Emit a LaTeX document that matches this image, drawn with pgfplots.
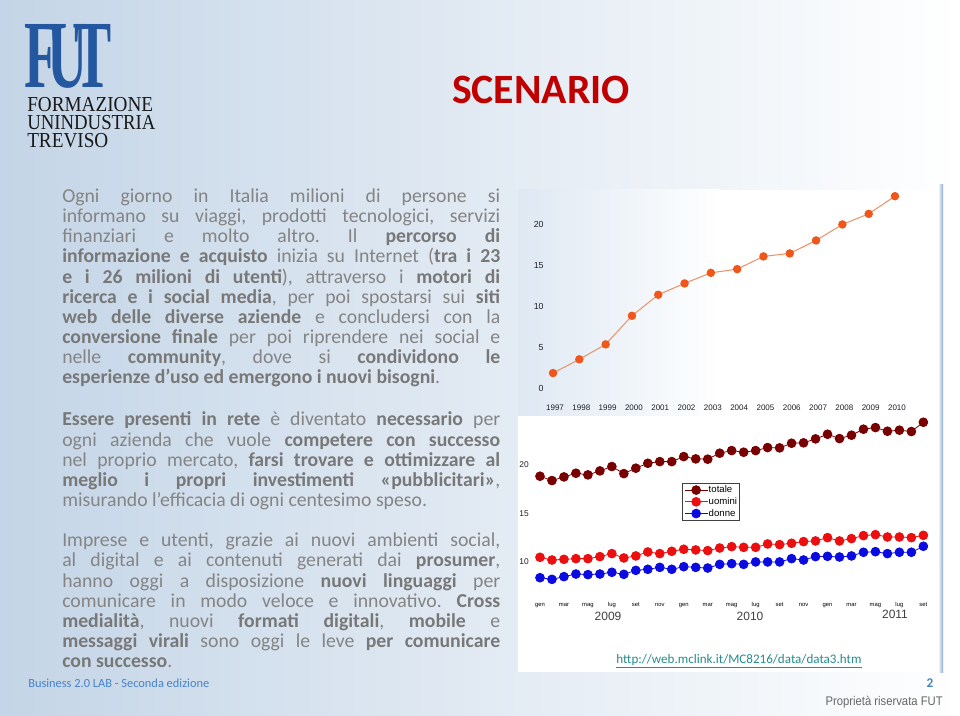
\documentclass[border=0pt]{standalone}
\usepackage{pgfplots}
\pgfplotsset{compat=1.18}
\usepackage{pgfplotstable}
\usepackage{fontspec}
\usepackage{graphicx}
\setmainfont{Carlito}
\newfontfamily\arialf{Liberation Sans}
\newfontfamily\timesf{Liberation Serif}
\frenchspacing
\definecolor{bgL}{RGB}{196,213,231}
\definecolor{bgM}{RGB}{222,232,243}
\definecolor{txt}{RGB}{132,132,132}
\definecolor{txtb}{RGB}{120,120,120}
\definecolor{titred}{RGB}{192,0,0}
\definecolor{futblue}{RGB}{35,88,160}
\definecolor{footblue}{RGB}{70,130,200}
\definecolor{linkc}{RGB}{40,140,140}
\definecolor{orgm}{RGB}{240,85,25}
\definecolor{orgl}{RGB}{232,150,110}
\definecolor{maroonc}{RGB}{120,0,0}
\definecolor{rosso}{RGB}{235,15,15}
\definecolor{blu}{RGB}{10,10,225}
\definecolor{tickc}{RGB}{30,30,40}
\definecolor{borderc}{RGB}{140,172,208}

\pgfplotstableread{
m tot uom don
0 18.83 10.45 8.34
1 18.38 10.17 8.17
2 18.76 10.24 8.45
3 19.14 10.31 8.72
4 18.97 10.31 8.66
5 19.38 10.52 8.72
6 19.83 10.83 8.90
7 19.10 10.38 8.69
8 19.66 10.59 9.10
9 20.17 11.00 9.21
10 20.34 10.83 9.41
11 20.34 11.07 9.21
12 20.86 11.28 9.48
13 20.62 11.21 9.41
14 20.59 11.14 9.34
15 21.21 11.41 9.72
16 21.48 11.55 9.79
17 21.31 11.48 9.72
18 21.48 11.48 9.97
19 21.79 11.83 9.97
20 21.76 11.76 9.97
21 22.24 11.90 10.31
22 22.28 12.07 10.17
23 22.69 12.14 10.52
24 23.17 12.48 10.55
25 22.72 12.14 10.48
26 23.07 12.38 10.59
27 23.69 12.69 10.97
28 23.86 12.79 11.03
29 23.48 12.55 10.83
30 23.59 12.55 10.97
31 23.45 12.48 10.97
32 24.41 12.72 11.59
}\mesi

\pgfplotstableread{
anno val
1997 1.86
1998 3.53
1999 5.35
2000 8.83
2001 11.39
2002 12.77
2003 14.06
2004 14.51
2005 16.06
2006 16.42
2007 18.00
2008 19.95
2009 21.24
2010 23.39
}\anni

\newcommand{\bt}[1]{\textbf{\color{txtb}#1}}
\newcommand{\jl}[2]{\node[anchor=base west,inner sep=0pt,text=txt,font=\fontsize{14.8}{15}\selectfont] at (62,#1) {\makebox[328.5pt][s]{#2}};}
\newcommand{\el}[2]{\node[anchor=base west,inner sep=0pt,text=txt,font=\fontsize{14.8}{15}\selectfont] at (62,#1) {#2};}

\begin{document}
\begin{tikzpicture}
\begin{scope}[x=0.75pt,y=-0.75pt]
\path[use as bounding box] (0,0) rectangle (960,716);
\shade[left color=bgL, middle color=bgM, right color=white] (0,0) rectangle (960,716);
% chart panels
\shade[left color=bgM, right color=white] (518,190) rectangle (720,416);
\fill[white] (720,190) rectangle (940,416);
\fill[white] (518,416) rectangle (940,672);
\shade[left color=white, right color=borderc] (938,185) rectangle (943,672);
% logo
\node[anchor=base west,inner sep=0pt,text=futblue] at (24,88) {\scalebox{0.55}[0.95]{\timesf\bfseries\fontsize{76}{76}\selectfont F\kern-0.2em U\kern-0.24em T}};
\node[anchor=base west,inner sep=0pt,text=black!90] at (27,112) {\scalebox{0.9}[1]{\timesf\fontsize{16}{16}\selectfont FORMAZIONE}};
\node[anchor=base west,inner sep=0pt,text=black!90] at (27,130) {\scalebox{0.88}[1]{\timesf\fontsize{16}{16}\selectfont UNINDUSTRIA}};
\node[anchor=base west,inner sep=0pt,text=black!90] at (27,148) {\scalebox{0.9}[1]{\timesf\fontsize{16}{16}\selectfont TREVISO}};
% title
\node[anchor=base,inner sep=0pt,text=titred,font=\bfseries\fontsize{31.3}{32}\selectfont] at (541,104) {SCENARIO};
% paragraph 1
\jl{202.7}{Ogni giorno in Italia milioni di persone si}
\jl{222.8}{informano su viaggi, prodotti tecnologici, servizi}
\jl{242.9}{finanziari e molto altro. Il \bt{percorso di}}
\jl{263.0}{\bt{informazione e acquisto} inizia su Internet (\bt{tra i 23}}
\jl{283.1}{\bt{e i 26 milioni di utenti}), attraverso i \bt{motori di}}
\jl{303.2}{\bt{ricerca e i social media}, per poi spostarsi sui \bt{siti}}
\jl{323.3}{\bt{web delle diverse aziende} e concludersi con la}
\jl{343.4}{\bt{conversione finale} per poi riprendere nei social e}
\jl{363.5}{nelle \bt{community}, dove si \bt{condividono le}}
\el{383.6}{\bt{esperienze d’uso ed emergono i nuovi bisogni}.}
% paragraph 2
\jl{426.0}{\bt{Essere presenti in rete} è diventato \bt{necessario} per}
\jl{446.1}{ogni azienda che vuole \bt{competere con successo}}
\jl{466.2}{nel proprio mercato, \bt{farsi trovare e ottimizzare al}}
\jl{486.3}{\bt{meglio i propri investimenti «pubblicitari»},}
\el{506.4}{misurando l’efficacia di ogni centesimo speso.}
% paragraph 3
\jl{546.8}{Imprese e utenti, grazie ai nuovi ambienti social,}
\jl{566.9}{al digital e ai contenuti generati dai \bt{prosumer},}
\jl{587.0}{hanno oggi a disposizione \bt{nuovi linguaggi} per}
\jl{607.1}{comunicare in modo veloce e innovativo. \bt{Cross}}
\jl{627.2}{\bt{medialità}, nuovi \bt{formati digitali}, \bt{mobile} e}
\jl{647.3}{\bt{messaggi virali} sono oggi le leve \bt{per comunicare}}
\el{667.4}{\bt{con successo}.}
% footer
\node[anchor=base west,inner sep=0pt,text=footblue,font=\fontsize{9.3}{10}\selectfont] at (28,687) {Business 2.0 LAB - Seconda edizione};
\node[anchor=base,inner sep=0pt,text=footblue,font=\bfseries\fontsize{10}{10}\selectfont] at (930,687) {2};
\node[anchor=base east,inner sep=0pt,text=black!60] at (943,705) {\scalebox{0.9}[1]{\arialf\fontsize{9.4}{10}\selectfont Proprietà riservata FUT}};
\node[anchor=base,inner sep=0pt,text=linkc,font=\fontsize{9.8}{10}\selectfont] at (739,663) {\underline{http://web.mclink.it/MC8216/data/data3.htm}};
% year labels of chart 2
\node[anchor=base,inner sep=0pt,text=black!75,font=\arialf\fontsize{9}{9}\selectfont] at (608,620) {2009};
\node[anchor=base,inner sep=0pt,text=black!75,font=\arialf\fontsize{9}{9}\selectfont] at (750,620) {2010};
\node[anchor=base,inner sep=0pt,text=black!75,font=\arialf\fontsize{9}{9}\selectfont] at (895,618) {2011};
\end{scope}

% chart 1
\begin{axis}[at={(404.9pt,-297.4pt)}, anchor=south west, scale only axis,
  width=276.2pt, height=157.1pt,
  xmin=1996.5, xmax=2010.5, ymin=-1, ymax=24.5,
  clip=false, axis line style={draw=none}, major tick length=0pt,
  xtick={1997,1998,1999,2000,2001,2002,2003,2004,2005,2006,2007,2008,2009,2010},
  xticklabels={1997,1998,1999,2000,2001,2002,2003,2004,2005,2006,2007,2008,2009,2010},
  ytick={0,5,10,15,20},
  /pgf/number format/assume math mode=true,
  xticklabel style={font=\arialf\fontsize{6}{6}\selectfont, text=tickc, anchor=base, inner sep=0pt, yshift=-10.6pt, xshift=1.5pt},
  yticklabel style={font=\arialf\fontsize{6.6}{7}\selectfont, text=tickc, anchor=east, inner sep=0pt, xshift=3pt},
]
\addplot[orgl, line width=0.8pt, mark=*, mark size=2.75pt, mark options={draw=orgm, fill=orgm}] table[x=anno, y=val] {\anni};
\end{axis}

% chart 2
\begin{axis}[at={(396pt,-443pt)}, anchor=south west, scale only axis,
  width=305.5pt, height=130.6pt,
  xmin=-1, xmax=33, ymin=7, ymax=25,
  clip=false, axis line style={draw=none}, major tick length=0pt,
  xtick={0,2,4,6,8,10,12,14,16,18,20,22,24,26,28,30,32},
  xticklabels={gen,mar,mag,lug,set,nov,gen,mar,mag,lug,set,nov,gen,mar,mag,lug,set},
  ytick={10,15,20},
  /pgf/number format/assume math mode=true,
  xticklabel style={font=\arialf\fontsize{4.4}{5}\selectfont, text=black, anchor=base, inner sep=0pt, yshift=-11.6pt},
  yticklabel style={font=\arialf\fontsize{6.3}{7}\selectfont, text=tickc, anchor=east, inner sep=0pt, xshift=0.8pt},
  legend style={at={(0.378,0.619)}, anchor=north west, draw=black!75, line width=0.6pt, fill=white,
    font=\arialf\fontsize{7.2}{8}\selectfont, inner xsep=1.5pt, inner ysep=1.2pt, row sep=1pt,
    nodes={inner sep=0.6pt, text height=5.2pt, text depth=1.4pt}},
  legend cell align=left,
]
\addplot[maroonc, line width=0.6pt, mark=*, mark size=3.3pt, mark options={draw=maroonc, fill=maroonc}] table[x=m, y=tot] {\mesi};
\addlegendentry{totale}
\addplot[rosso, line width=0.6pt, mark=*, mark size=3.3pt, mark options={draw=rosso, fill=rosso}] table[x=m, y=uom] {\mesi};
\addlegendentry{uomini}
\addplot[blu, line width=0.6pt, mark=*, mark size=3.3pt, mark options={draw=blu, fill=blu}] table[x=m, y=don] {\mesi};
\addlegendentry{donne}
\end{axis}
\end{tikzpicture}
\end{document}
